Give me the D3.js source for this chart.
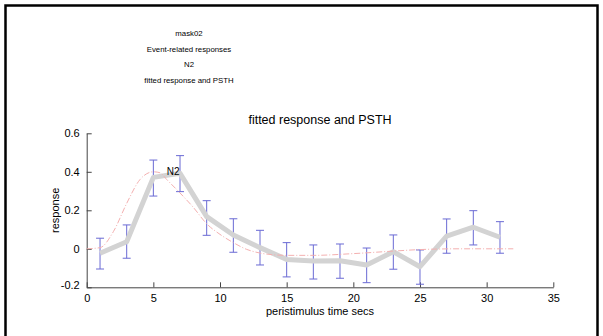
<!DOCTYPE html>
<html>
<head>
<meta charset="utf-8">
<script src="https://cdn.jsdelivr.net/npm/d3@7"></script>
<style>
  html, body { margin: 0; padding: 0; background: #fff; }
  svg { display: block; font-family: Arial, "Liberation Sans", Helvetica, sans-serif; }
</style>
</head>
<body>
<svg id="chart" width="603" height="336"></svg>
<script>
// ---- data ----
const headerLines = ["mask02", "Event-related responses", "N2", "fitted response and PSTH"];
const chartTitle = "fitted response and PSTH";
const xLabel = "peristimulus time secs";
const yLabel = "response";
const xTicks = [0, 5, 10, 15, 20, 25, 30, 35];
const yTicks = [-0.2, 0, 0.2, 0.4, 0.6];
const yTickLabels = ["-0.2", "0", "0.2", "0.4", "0.6"];

// PSTH bins
const binTime  = [1, 3, 5, 7, 9, 11, 13, 15, 17, 19, 21, 23, 25, 27, 29, 31];
const binMean  = [-0.023, 0.037, 0.371, 0.392, 0.167, 0.072, 0.006, -0.055, -0.063, -0.062, -0.084, -0.015, -0.093, 0.066, 0.112, 0.060];
const binUpper = [0.055, 0.124, 0.461, 0.484, 0.250, 0.156, 0.096, 0.032, 0.020, 0.025, 0.004, 0.072, -0.006, 0.155, 0.198, 0.141];
const binLower = [-0.105, -0.049, 0.274, 0.297, 0.070, -0.018, -0.084, -0.146, -0.157, -0.153, -0.176, -0.106, -0.184, -0.023, 0.020, -0.023];

// fitted response
const fitTime  = [0, 1, 2, 3, 4, 4.5, 5, 5.5, 6, 7, 8, 9, 10, 11, 12, 13, 14, 15, 17, 20, 23, 25, 28, 32];
const fitValue = [0, 0.006, 0.089, 0.236, 0.360, 0.390, 0.400, 0.395, 0.360, 0.290, 0.215, 0.130, 0.075, 0.032, -0.003, -0.022, -0.031, -0.034, -0.034, -0.025, -0.012, -0.004, 0, 0];

const labelText = "N2";
const labelPos = [6.0, 0.40];

// ---- drawing ----
const svg = d3.select("#chart");
const W = 603, H = 336;
const plot = { left: 86.7, right: 553.3, top: 133.3, bottom: 287.3 };

svg.append("rect").attr("x", 0).attr("y", 0).attr("width", W).attr("height", H).attr("fill", "#fff");
// outer frame
svg.append("rect").attr("x", 5.5).attr("y", 5.5).attr("width", 592).attr("height", 360)
  .attr("fill", "none").attr("stroke", "#000").attr("stroke-width", 2.5);

// header text block
const header = svg.append("g");
headerLines.forEach((t, i) => {
  header.append("text").attr("x", 189).attr("y", 36 + i * 15.6)
    .attr("text-anchor", "middle").attr("font-size", 7.8).attr("fill", "#000").text(t);
});

const x = d3.scaleLinear().domain([0, 35]).range([plot.left, plot.right]);
const y = d3.scaleLinear().domain([-0.2, 0.6]).range([plot.bottom, plot.top]);

// axes
const axisColor = "#444";
const xAxis = d3.axisBottom(x).tickValues(xTicks).tickSizeInner(-5).tickSizeOuter(0).tickPadding(5).tickFormat(d3.format("d"));
const gx = svg.append("g").attr("transform", `translate(0,${plot.bottom})`).call(xAxis);
const yAxis = d3.axisLeft(y).tickValues(yTicks).tickSizeInner(-5).tickSizeOuter(0).tickPadding(7)
  .tickFormat((d, i) => yTickLabels[i]);
const gy = svg.append("g").attr("transform", `translate(${plot.left},0)`).call(yAxis);
[gx, gy].forEach(g => {
  g.select(".domain").attr("stroke", axisColor).attr("stroke-width", 1);
  g.selectAll(".tick line").attr("stroke", axisColor);
  g.selectAll(".tick text").attr("fill", "#000").attr("font-size", 11).attr("font-family", "Arial, 'Liberation Sans', sans-serif");
});
gx.selectAll(".tick text").attr("dy", "0.9em");
gy.selectAll(".tick text").filter(d => d === -0.2).attr("dy", "0.1em");

// error bars
const ebColor = "#6a6ad4";
const eb = svg.append("g").attr("stroke", ebColor).attr("stroke-width", 1).attr("fill", "none");
binTime.forEach((t, i) => {
  const cx = x(t);
  eb.append("line").attr("x1", cx).attr("x2", cx).attr("y1", y(binLower[i])).attr("y2", y(binUpper[i]));
  eb.append("line").attr("x1", cx - 4).attr("x2", cx + 4).attr("y1", y(binUpper[i])).attr("y2", y(binUpper[i]));
  eb.append("line").attr("x1", cx - 4).attr("x2", cx + 4).attr("y1", y(binLower[i])).attr("y2", y(binLower[i]));
});

// PSTH mean line
const meanLine = d3.line().x((d, i) => x(binTime[i])).y(d => y(d));
svg.append("path").datum(binMean).attr("d", meanLine)
  .attr("fill", "none").attr("stroke", "#d3d3d3").attr("stroke-width", 5)
  .attr("stroke-linejoin", "round").attr("stroke-linecap", "butt");

// fitted response
const fitLine = d3.line().x((d, i) => x(fitTime[i])).y(d => y(d)).curve(d3.curveMonotoneX);
svg.append("path").datum(fitValue).attr("d", fitLine)
  .attr("fill", "none").attr("stroke", "#f4b0b0").attr("stroke-width", 1)
  .attr("stroke-dasharray", "6,2,1,2");

// label
svg.append("text").attr("x", x(labelPos[0])).attr("y", y(labelPos[1])).attr("dy", "0.35em")
  .attr("font-size", 10).attr("fill", "#000").text(labelText);

// title & axis labels
svg.append("text").attr("x", (plot.left + plot.right) / 2).attr("y", 124)
  .attr("text-anchor", "middle").attr("font-size", 12.5).attr("fill", "#000").text(chartTitle);
svg.append("text").attr("x", (plot.left + plot.right) / 2).attr("y", 315)
  .attr("text-anchor", "middle").attr("font-size", 11).attr("fill", "#000").text(xLabel);
svg.append("text").attr("transform", `translate(59,${(plot.top + plot.bottom) / 2}) rotate(-90)`)
  .attr("text-anchor", "middle").attr("font-size", 11).attr("fill", "#000").text(yLabel);
</script>
</body>
</html>
